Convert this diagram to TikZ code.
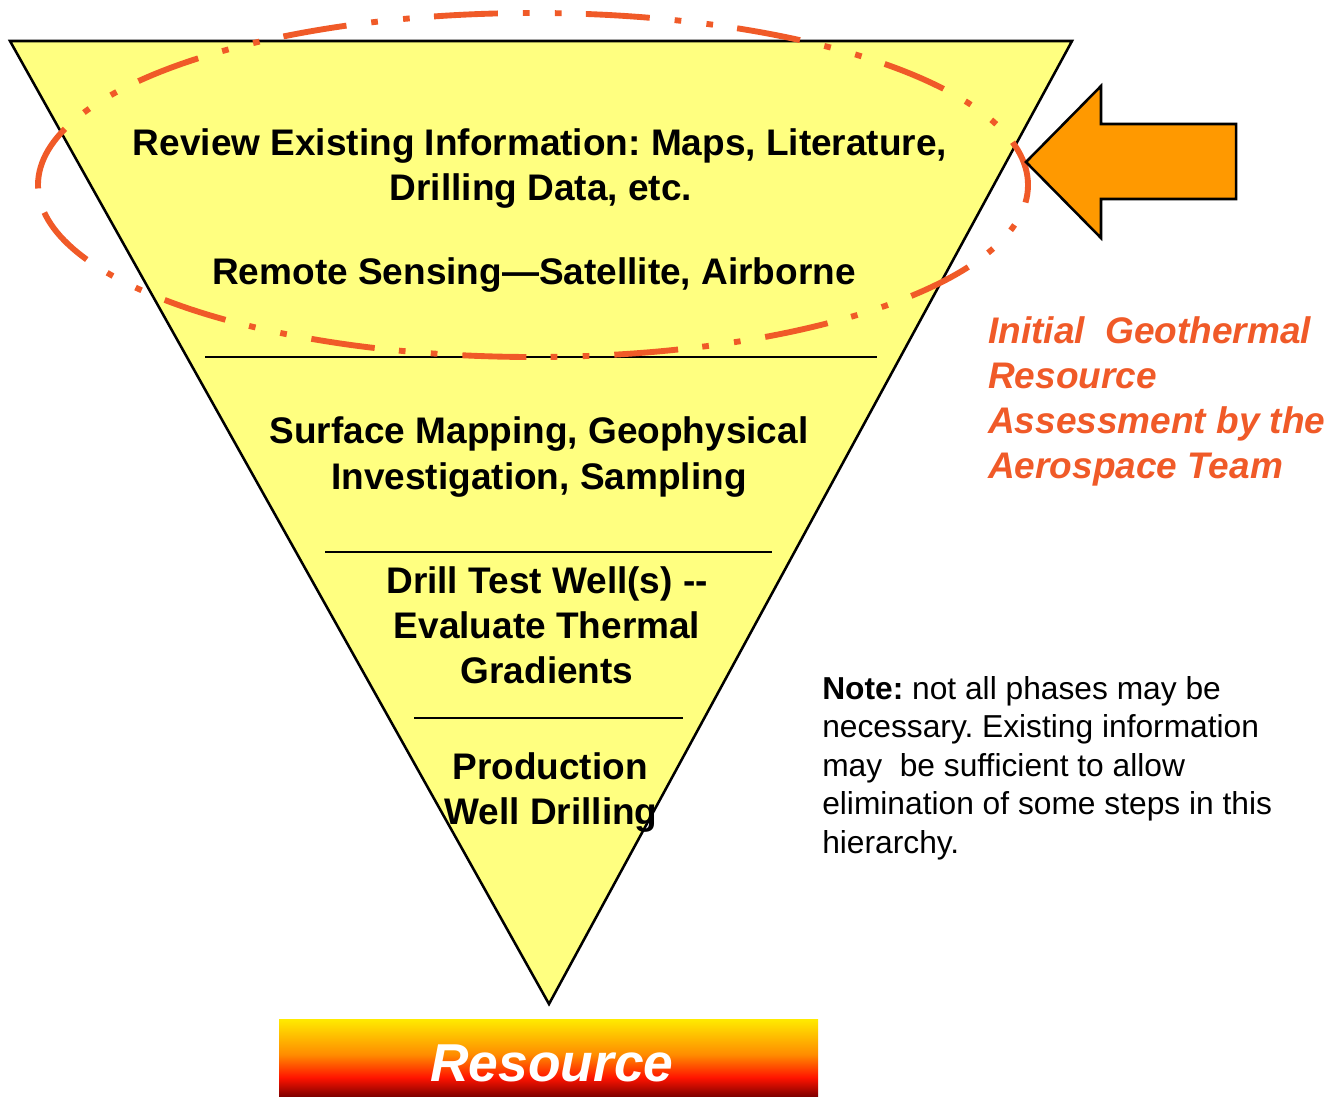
\documentclass[tikz,border=0pt]{standalone}
\usepackage{fontspec}
\setmainfont{Liberation Sans}
\frenchspacing
\definecolor{funnel}{RGB}{255,255,128}
\definecolor{ringorange}{RGB}{240,90,40}
\definecolor{arroworange}{RGB}{255,153,0}
\definecolor{emberdark}{RGB}{130,0,0}
\definecolor{emberred}{RGB}{255,20,0}
\definecolor{emberorange}{RGB}{255,140,0}
\definecolor{emberglow}{RGB}{255,235,0}
\pgfdeclareverticalshading{fire}{100bp}{color(0bp)=(emberdark); color(25bp)=(emberdark); color(37bp)=(emberred); color(52bp)=(emberorange); color(75bp)=(emberglow); color(100bp)=(emberglow)}
\tikzset{
  phase/.style={font=\fontsize{27.75}{33.75}\selectfont\bfseries, anchor=base, inner sep=0pt},
  teamtext/.style={font=\fontsize{27.75}{33.75}\selectfont\bfseries\itshape, text=ringorange, anchor=base west, inner sep=0pt},
  notetext/.style={font=\fontsize{23.8}{28.9}\selectfont, anchor=base west, inner sep=0pt},
  divider/.style={line width=1.9pt},
}
\begin{document}
\begin{tikzpicture}[x=0.75pt, y=-0.75pt]
\useasboundingbox (0,0) rectangle (1334,1096);
% funnel
\coordinate (tl) at (10,41);
\coordinate (tr) at (1072,41);
\coordinate (tip) at (549,1004);
\filldraw[fill=funnel, draw=black, line width=1.9pt, line join=miter] (tl) -- (tr) -- (tip) -- cycle;
% phase dividers
\coordinate (d1l) at (205,357); \coordinate (d1r) at (877,357);
\coordinate (d2l) at (325,552); \coordinate (d2r) at (772,552);
\coordinate (d3l) at (414,718); \coordinate (d3r) at (683,718);
\draw[divider] (d1l) -- (d1r);
\draw[divider] (d2l) -- (d2r);
\draw[divider] (d3l) -- (d3r);
% phase texts
\node[phase] (p1a) at (540,155) {Review Existing Information: Maps, Literature,};
\node[phase] (p1b) at (541,200) {Drilling Data, etc.};
\node[phase] (p1c) at (534,284) {Remote Sensing—Satellite, Airborne};
\node[phase] (p2a) at (539,443) {Surface Mapping, Geophysical};
\node[phase] (p2b) at (539,489) {Investigation, Sampling};
\node[phase] (p3a) at (547,593) {Drill Test Well(s) -{}-};
\node[phase] (p3b) at (547,638) {Evaluate Thermal};
\node[phase] (p3c) at (547,683) {Gradients};
\node[phase] (p4a) at (550,779) {Production};
\node[phase] (p4b) at (551,824) {Well Drilling};
% dash-dot-dot ring around the first phase, starting at its left end
\draw[ringorange, line width=4.4pt,
      dash pattern=on 48pt off 18.75pt on 5pt off 19pt on 5pt off 18.25pt]
  (38,185) arc [start angle=180, end angle=540, x radius=495, y radius=172];
% pointing arrow
\filldraw[fill=arroworange, draw=black, line width=1.9pt, line join=miter]
  (1026,162) -- (1101,86) -- (1101,124) -- (1236,124) -- (1236,199) -- (1101,199) -- (1101,238) -- cycle;
% team label
\node[teamtext] (t1) at (988,343) {Initial\ \ Geothermal};
\node[teamtext] (t2) at (988,388) {Resource};
\node[teamtext] (t3) at (988,433) {Assessment by the};
\node[teamtext] (t4) at (988,478) {Aerospace Team};
% note
\node[notetext] (n1) at (822,699) {\bfseries Note:\mdseries{} not all phases may be};
\node[notetext] (n2) at (822,737.5) {necessary. Existing information};
\node[notetext] (n3) at (822,776) {may\ \ be sufficient to allow};
\node[notetext] (n4) at (822,814.5) {elimination of some steps in this};
\node[notetext] (n5) at (822,853) {hierarchy.};
% resource bar
\shade[shading=fire] (279,1019) rectangle (818,1096);
\node[font=\fontsize{40}{48}\selectfont\bfseries\itshape, text=white, anchor=base, inner sep=0pt] (res) at (552,1081) {Resource};
\end{tikzpicture}
\end{document}
